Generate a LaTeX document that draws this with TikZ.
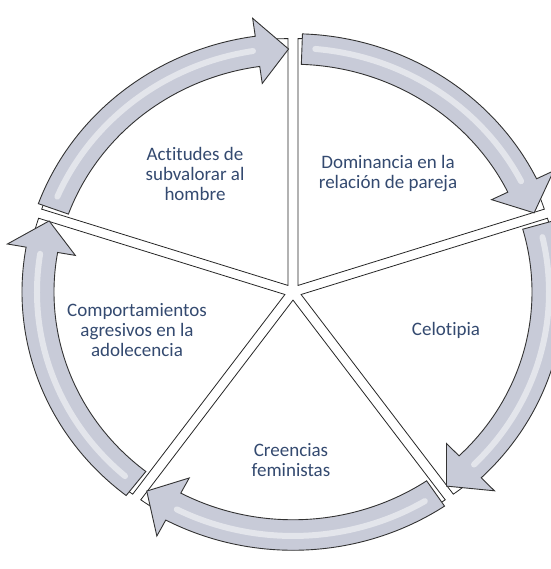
\documentclass[tikz,border=0pt]{standalone}
\usepackage{fontspec}
\setmainfont[Ligatures=NoCommon]{Carlito}
\usepackage{tikz}

\definecolor{ringfill}{RGB}{200,203,216}
\definecolor{labelblue}{RGB}{52,74,112}

\begin{document}
\begin{tikzpicture}[x=1pt,y=1pt,
    wedge/.style={draw=black!85,line width=0.8pt,fill=white},
    ringarrow/.style={draw=black!80,line width=0.9pt,fill=ringfill,line join=miter},
    ringshine/.style={white,line width=6pt,opacity=0.5,line cap=round},
    cyclelabel/.style={align=center,text=labelblue,font=\fontsize{19}{20}\selectfont}]
   \useasboundingbox (-293,-277) rectangle (257,292);
   \begin{scope}[yscale=0.953]
   % five segments, kept apart by a small gap
   \foreach \s [evaluate=\s as \m using \s-36, evaluate=\s as \e using \s-72] in {90,18,-54,-126,-198}
     \draw[wedge] (\m:8.5) -- ++(\s:259) arc[start angle=\s, end angle=\e, radius=259] -- cycle;
   % arrows round the rim: tail, head base, tip
   \foreach \a/\b/\t in {160/98/91, 88/26/19, 16/-46/-53, -56/-118/-125, -128/-190/-197}{
     \filldraw[ringarrow] (\a:271) arc[start angle=\a, end angle=\b, radius=271]
        -- (\b:290) -- (\t:255) -- (\b:221) -- (\b:239)
        arc[start angle=\b, end angle=\a, radius=239] -- cycle;
     \pgfmathsetmacro{\sa}{\a-3}
     \pgfmathsetmacro{\sb}{\b+1}
     \draw[ringshine] (\sa:256) arc[start angle=\sa, end angle=\sb, radius=256];
   }
   \end{scope}
   \node[cyclelabel] (actitudes) at (-98,118) {Actitudes de\\subvalorar al\\hombre};
   \node[cyclelabel] (dominancia) at (95,118) {Dominancia en la\\relación de pareja};
   \node[cyclelabel] (celotipia) at (153,-38) {Celotipia};
   \node[cyclelabel] (creencias) at (-2,-168) {Creencias\\feministas};
   \node[cyclelabel] (comportamientos) at (-156,-38) {Comportamientos\\agresivos en la\\adolecencia};
\end{tikzpicture}
\end{document}
